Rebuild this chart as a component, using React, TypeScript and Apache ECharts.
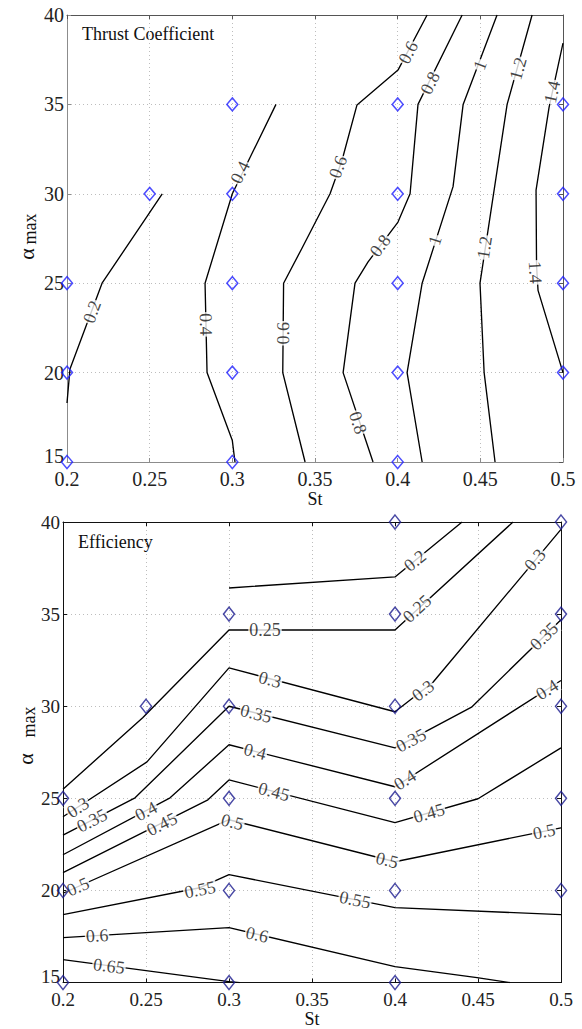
import React, { useEffect, useRef } from "react";
import * as echarts from "echarts";

const FONT = '"Liberation Serif", "Times New Roman", serif';

// ---- axes ----
const stMin = 0.2;
const stMax = 0.5;
const stStep = 0.05;
const alphaMin = 15;
const alphaMax = 40;
const alphaStep = 5;

// ---- Thrust coefficient panel: sample points (St, alpha_max) ----
const thrustSampleSt = [0.2, 0.2, 0.2, 0.25, 0.3, 0.3, 0.3, 0.3, 0.3, 0.4, 0.4, 0.4, 0.4, 0.4, 0.5, 0.5, 0.5, 0.5];
const thrustSampleAlpha = [15, 20, 25, 30, 15, 20, 25, 30, 35, 15, 20, 25, 30, 35, 20, 25, 30, 35];

// thrust contour lines [St, alpha]
const ct02 = [[0.2576, 30], [0.2212, 25], [0.2018, 20.2], [0.2, 18.3]];
const ct04 = [[0.3264, 35], [0.3, 30], [0.2835, 25], [0.2847, 20], [0.3, 16.2], [0.3016, 15]];
const ct06 = [[0.4178, 40], [0.4002, 36.92], [0.3754, 34.97], [0.3664, 31.89], [0.3591, 30], [0.3422, 26.97], [0.331, 25], [0.3305, 20], [0.344, 15]];
const ct08 = [[0.439, 40], [0.4123, 35], [0.4075, 30], [0.4002, 28.42], [0.3821, 26.19], [0.3742, 25], [0.367, 20], [0.3851, 15]];
const ct10 = [[0.4601, 40], [0.4396, 35], [0.4335, 30.4], [0.4148, 25], [0.4057, 20], [0.4148, 15]];
const ct12 = [[0.4813, 40], [0.4662, 35], [0.4498, 25], [0.4523, 20], [0.4589, 15]];
const ct14 = [[0.5, 38.43], [0.4916, 34.85], [0.4837, 30.2], [0.484, 26], [0.4849, 24.6], [0.5, 20]];

// thrust contour label anchors [St, alpha]
const ct02L = [[0.2151, 23.4]];
const ct04L = [[0.3047, 31.2], [0.2841, 22.7]];
const ct06L = [[0.4063, 37.9], [0.3639, 31.5], [0.3307, 22.2]];
const ct08L = [[0.4196, 36.2], [0.3894, 27.1], [0.376, 17.2]];
const ct10L = [[0.4498, 37.2], [0.4226, 27.4]];
const ct12L = [[0.4728, 37.0], [0.4525, 27.0]];
const ct14L = [[0.4934, 35.7], [0.4833, 25.6]];

// ---- Efficiency panel: sample points ----
const effSampleSt = [0.2, 0.2, 0.2, 0.25, 0.3, 0.3, 0.3, 0.3, 0.3, 0.4, 0.4, 0.4, 0.4, 0.4, 0.4, 0.5, 0.5, 0.5, 0.5, 0.5];
const effSampleAlpha = [15, 20, 25, 30, 15, 20, 25, 30, 35, 15, 20, 25, 30, 35, 40, 20, 25, 30, 35, 40];

// efficiency contour lines
const ce020 = [[0.3, 36.42], [0.4, 37.02], [0.4404, 40]];
const ce025 = [[0.2, 25.5], [0.248, 29.37], [0.3, 34.14], [0.4, 34.14], [0.4711, 40]];
const ce030 = [[0.2, 24.0], [0.2506, 26.98], [0.3, 32.08], [0.4, 29.7], [0.4229, 31.3], [0.5, 39.6]];
const ce035 = [[0.2, 23.0], [0.2434, 25.03], [0.3, 30.0], [0.4, 27.74], [0.4464, 29.97], [0.5, 34.7]];
const ce040 = [[0.2, 21.94], [0.2645, 25.03], [0.3, 27.91], [0.4, 25.63], [0.5, 31.4]];
const ce045 = [[0.2, 20.97], [0.2873, 24.92], [0.3, 26.0], [0.4, 23.68], [0.45, 24.98], [0.5, 27.74]];
const ce050 = [[0.2, 19.85], [0.3, 23.84], [0.4, 21.56], [0.5, 23.4]];
const ce055 = [[0.2, 18.69], [0.2825, 20.15], [0.3, 20.86], [0.4, 19.07], [0.5, 18.69]];
const ce060 = [[0.2, 17.44], [0.3, 17.98], [0.4, 15.87], [0.4494, 15.27], [0.4693, 15]];
const ce065 = [[0.2, 16.25], [0.3, 15.05], [0.3066, 15]];

// efficiency contour label anchors
const ce020L = [[0.412, 37.9]];
const ce025L = [[0.3217, 34.14], [0.4133, 35.3]];
const ce030L = [[0.209, 24.5], [0.3247, 31.45], [0.4169, 30.85], [0.4843, 37.95]];
const ce035L = [[0.2175, 23.8], [0.3163, 29.6], [0.4096, 28.15], [0.4898, 33.8]];
const ce040L = [[0.25, 24.3], [0.3157, 27.54], [0.406, 26.0], [0.4916, 30.9]];
const ce045L = [[0.2596, 23.6], [0.3271, 25.36], [0.4205, 24.2]];
const ce050L = [[0.209, 20.2], [0.302, 23.72], [0.3952, 21.65], [0.4898, 23.2]];
const ce055L = [[0.2825, 20.05], [0.3759, 19.5]];
const ce060L = [[0.2205, 17.55], [0.3169, 17.6]];
const ce065L = [[0.2277, 15.9]];

const thrustContours = [
  { level: "0.2", pts: ct02, labels: ct02L },
  { level: "0.4", pts: ct04, labels: ct04L },
  { level: "0.6", pts: ct06, labels: ct06L },
  { level: "0.8", pts: ct08, labels: ct08L },
  { level: "1", pts: ct10, labels: ct10L },
  { level: "1.2", pts: ct12, labels: ct12L },
  { level: "1.4", pts: ct14, labels: ct14L },
];

const effContours = [
  { level: "0.2", pts: ce020, labels: ce020L },
  { level: "0.25", pts: ce025, labels: ce025L },
  { level: "0.3", pts: ce030, labels: ce030L },
  { level: "0.35", pts: ce035, labels: ce035L },
  { level: "0.4", pts: ce040, labels: ce040L },
  { level: "0.45", pts: ce045, labels: ce045L },
  { level: "0.5", pts: ce050, labels: ce050L },
  { level: "0.55", pts: ce055, labels: ce055L },
  { level: "0.6", pts: ce060, labels: ce060L },
  { level: "0.65", pts: ce065, labels: ce065L },
];

const TOP_GRID = { left: 67, top: 15, width: 496, height: 447 };
const BOT_GRID = { left: 63, top: 522, width: 498, height: 461 };

function angleFor(line: number[][], lx: number, ly: number, sx: number, sy: number) {
  let best = Infinity;
  let ang = 0;
  for (let i = 0; i < line.length - 1; i++) {
    const ax = line[i][0] * sx, ay = line[i][1] * sy;
    const bx = line[i + 1][0] * sx, by = line[i + 1][1] * sy;
    const px = lx * sx, py = ly * sy;
    const dx = bx - ax, dy = by - ay;
    const L = dx * dx + dy * dy;
    let t = L ? ((px - ax) * dx + (py - ay) * dy) / L : 0;
    t = Math.max(0, Math.min(1, t));
    const qx = ax + t * dx - px, qy = ay + t * dy - py;
    const d = qx * qx + qy * qy;
    if (d < best) {
      best = d;
      let ddx = dx, ddy = dy;
      if (ddx < 0) { ddx = -ddx; ddy = -ddy; }
      ang = (Math.atan2(ddy, ddx) * 180) / Math.PI;
    }
  }
  return ang;
}

const fmtSt = (v: number) => String(Math.round(v * 100) / 100);

function xAxes(gridIndex: number, mainColor: string, otherColor: string, fontSize: number, margin: number, nameGap: number) {
  return [
    {
      type: "value", gridIndex, position: "bottom", min: stMin, max: stMax, interval: stStep,
      name: "St", nameLocation: "middle", nameGap,
      nameTextStyle: { fontFamily: FONT, fontSize: 18, color: "#111" },
      axisLine: { show: true, onZero: false, lineStyle: { color: mainColor, width: 1 } },
      axisTick: { show: true, inside: true, length: 4, lineStyle: { color: mainColor } },
      axisLabel: { fontFamily: FONT, fontSize, lineHeight: 14, color: "#222", margin, formatter: fmtSt },
      splitLine: { show: true, lineStyle: { color: "#bdbdbd", type: [1, 3], width: 1 } },
    },
    {
      type: "value", gridIndex, position: "top", min: stMin, max: stMax, interval: stStep,
      axisLine: { show: true, onZero: false, lineStyle: { color: otherColor, width: 1 } },
      axisTick: { show: true, inside: true, length: 4, lineStyle: { color: otherColor } },
      axisLabel: { show: false },
      splitLine: { show: false },
    },
  ];
}

function yAxes(gridIndex: number, mainColor: string, otherColor: string, fontSize: number) {
  return [
    {
      type: "value", gridIndex, position: "left", min: alphaMin, max: alphaMax, interval: alphaStep,
      axisLine: { show: true, onZero: false, lineStyle: { color: mainColor, width: 1 } },
      axisTick: { show: true, inside: true, length: 4, lineStyle: { color: mainColor } },
      axisLabel: {
        fontFamily: FONT, fontSize, lineHeight: 14, color: "#222", margin: 3,
        formatter: (v: number) => (v === alphaMin ? `{lo|${v}}` : `${v}`),
        rich: { lo: { fontFamily: FONT, fontSize, color: "#222", lineHeight: 14, padding: [0, 0, 12, 0] } },
      },
      splitLine: { show: true, lineStyle: { color: "#bdbdbd", type: [1, 3], width: 1 } },
    },
    {
      type: "value", gridIndex, position: "right", min: alphaMin, max: alphaMax, interval: alphaStep,
      axisLine: { show: true, onZero: false, lineStyle: { color: otherColor, width: 1 } },
      axisTick: { show: true, inside: true, length: 4, lineStyle: { color: otherColor } },
      axisLabel: { show: false },
      splitLine: { show: false },
    },
  ];
}

function panelSeries(
  contours: { level: string; pts: number[][]; labels: number[][] }[],
  axisIndex: number,
  grid: { width: number; height: number },
  markerColor: string,
  markerSize: number[],
  stArr: number[],
  alArr: number[]
) {
  const sx = grid.width / (stMax - stMin);
  const sy = grid.height / (alphaMax - alphaMin);
  const out: any[] = [];
  contours.forEach((c) => {
    out.push({
      type: "line", xAxisIndex: axisIndex, yAxisIndex: axisIndex, data: c.pts,
      symbol: "none", silent: true, z: 3,
      lineStyle: { color: "#000", width: 1.35 },
    });
  });
  const labelData: any[] = [];
  contours.forEach((c) =>
    c.labels.forEach(([x, y]) =>
      labelData.push({ value: [x, y, c.level], label: { rotate: angleFor(c.pts, x, y, sx, sy) } })
    )
  );
  out.push({
    type: "scatter", xAxisIndex: axisIndex, yAxisIndex: axisIndex, data: labelData,
    symbolSize: 1, itemStyle: { color: "rgba(0,0,0,0)" }, silent: true, z: 4,
    label: {
      show: true, position: "inside", formatter: (p: any) => p.value[2],
      fontFamily: FONT, fontSize: 18, color: "#111", backgroundColor: "#fff",
      padding: [0, 1], lineHeight: 16,
    },
  });
  out.push({
    type: "scatter", xAxisIndex: axisIndex, yAxisIndex: axisIndex,
    data: stArr.map((v, i) => [v, alArr[i]]),
    symbol: "diamond", symbolSize: markerSize, silent: true, z: 5,
    itemStyle: { color: "rgba(0,0,0,0)", borderColor: markerColor, borderWidth: 1.5 },
  });
  return out;
}

export default function App() {
  const ref = useRef<HTMLDivElement>(null);
  useEffect(() => {
    document.body.style.margin = "0";
    if (!ref.current) return;
    const chart = echarts.init(ref.current, undefined, { renderer: "svg" });
    const xa0 = xAxes(0, "#8c8c8c", "#555", 20, 10, 24);
    const xa1 = xAxes(1, "#111", "#111", 19, 10, 25);
    const ya0 = yAxes(0, "#8c8c8c", "#555", 20);
    const ya1 = yAxes(1, "#111", "#111", 19);
    const option: any = {
      animation: false,
      backgroundColor: "#fff",
      grid: [
        { ...TOP_GRID, containLabel: false },
        { ...BOT_GRID, containLabel: false },
      ],
      xAxis: [xa0[0], xa0[1], xa1[0], xa1[1]],
      yAxis: [ya0[0], ya0[1], ya1[0], ya1[1]],
      series: [
        ...panelSeries(thrustContours, 0, TOP_GRID, "#1f1fff", [11, 13], thrustSampleSt, thrustSampleAlpha),
        ...panelSeries(effContours, 2, BOT_GRID, "#1c1c8e", [11, 14], effSampleSt, effSampleAlpha),
      ],
      graphic: [
        { type: "text", x: 82, y: 34, style: { text: "Thrust Coefficient", fontFamily: FONT, fontSize: 18, fill: "#111", align: "left", verticalAlign: "middle" } },
        { type: "text", x: 78, y: 542, style: { text: "Efficiency", fontFamily: FONT, fontSize: 18, fill: "#111", align: "left", verticalAlign: "middle" } },
        { type: "text", x: 26, y: 254, rotation: Math.PI / 2, style: { text: "α", fontFamily: FONT, fontSize: 22, fill: "#111", align: "center", verticalAlign: "middle" } },
        { type: "text", x: 30, y: 229, rotation: Math.PI / 2, style: { text: "max", fontFamily: FONT, fontSize: 18, fill: "#111", align: "center", verticalAlign: "middle" } },
        { type: "text", x: 25, y: 759, rotation: Math.PI / 2, style: { text: "α", fontFamily: FONT, fontSize: 22, fill: "#111", align: "center", verticalAlign: "middle" } },
        { type: "text", x: 29, y: 722, rotation: Math.PI / 2, style: { text: "max", fontFamily: FONT, fontSize: 18, fill: "#111", align: "center", verticalAlign: "middle" } },
      ],
    };
    chart.setOption(option);
    return () => chart.dispose();
  }, []);
  return <div ref={ref} style={{ width: 582, height: 1029 }} />;
}
